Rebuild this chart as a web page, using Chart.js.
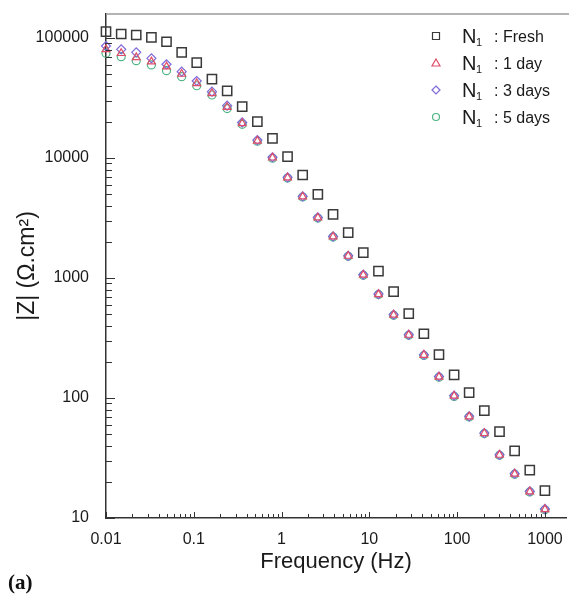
<!DOCTYPE html>
<html>
<head>
<meta charset="utf-8">
<script src="https://cdn.jsdelivr.net/npm/chart.js@4.4.1/dist/chart.umd.min.js"></script>
<style>
  body { margin: 0; background: #fff; }
  #wrap { width: 569px; height: 597px; }
</style>
</head>
<body>
<div id="wrap"><canvas id="bodeChart" width="569" height="597"></canvas></div>
<script>
// frequencies (Hz)
const freq = [0.01, 0.0149, 0.0221, 0.0329, 0.0489, 0.0728, 0.108, 0.161, 0.240, 0.356,
              0.530, 0.788, 1.17, 1.74, 2.59, 3.86, 5.74, 8.53, 12.7, 18.9,
              28.1, 41.8, 62.1, 92.4, 137, 204, 304, 452, 672, 1000];

// |Z| (ohm.cm2) per sample
const fresh = [112900, 108000, 105900, 101300, 93100, 76000, 62300, 45500, 36200, 26800,
               20100, 14600, 10250, 7220, 4980, 3390, 2385, 1625, 1143, 769,
               504, 343, 230, 156, 111, 78.4, 52.4, 36.2, 25.1, 16.9];
const oneDay = [80500, 74600, 69000, 63500, 57700, 50100, 41900, 34600, 26500, 19400,
                13900, 10050, 6850, 4760, 3180, 2210, 1525, 1060, 731, 492,
                335, 228, 150, 104, 70, 50.8, 33.5, 23.3, 16.6, 11.8];
const threeDays = [85800, 80500, 76000, 67700, 60400, 52400, 43800, 35700, 27300, 19800,
                   14100, 10150, 6900, 4790, 3200, 2220, 1530, 1065, 735, 495,
                   337, 229, 151, 104.5, 70.3, 51, 33.6, 23.4, 16.7, 11.9];
const fiveDays = [74600, 69900, 64700, 59600, 53400, 47600, 40000, 33500, 25800, 19100,
                  13800, 9950, 6800, 4730, 3160, 2195, 1515, 1052, 727, 489,
                  333, 226, 149, 103, 69.5, 50.5, 33.3, 23.2, 16.5, 11.7];

const seriesNames = ["Fresh", "1 day", "3 days", "5 days"];

const xTickValues = [0.01, 0.1, 1, 10, 100, 1000];
const xTickLabels = ["0.01", "0.1", "1", "10", "100", "1000"];
const yTickValues = [10, 100, 1000, 10000, 100000];
const yTickLabels = ["10", "100", "1000", "10000", "100000"];

const FONT = "'Liberation Sans', Arial, sans-serif";

function toPoints(values) {
    return values.map((v, i) => ({ x: freq[i], y: v }));
}

// inward minor/major ticks + top frame line
const frameTicks = {
    id: "frameTicks",
    afterDraw(chart) {
        const ctx = chart.ctx;
        const xs = chart.scales.x;
        const ys = chart.scales.y;
        const area = chart.chartArea;
        ctx.save();
        ctx.strokeStyle = "#333";
        ctx.lineWidth = 1;
        for (let d = 10; d <= 100000; d *= 10) {
            for (let m = 1; m <= 9; m++) {
                const v = d * m;
                if (v < ys.min || v > ys.max) continue;
                const py = Math.round(ys.getPixelForValue(v)) + 0.5;
                ctx.beginPath();
                ctx.moveTo(area.left, py);
                ctx.lineTo(area.left + (m === 1 ? 9 : 6), py);
                ctx.stroke();
            }
        }
        for (let d = 0.01; d <= 1000; d *= 10) {
            for (let m = 1; m <= 9; m++) {
                const v = d * m;
                if (v < xs.min || v > xs.max) continue;
                const px = Math.round(xs.getPixelForValue(v)) + 0.5;
                ctx.beginPath();
                ctx.moveTo(px, area.bottom);
                ctx.lineTo(px, area.bottom - (m === 1 ? 6 : 4));
                ctx.stroke();
            }
        }
        // top border
        ctx.strokeStyle = "#9a9a9a";
        ctx.lineWidth = 1.5;
        ctx.beginPath();
        ctx.moveTo(area.left, area.top);
        ctx.lineTo(chart.width, area.top);
        ctx.stroke();

        // panel tag
        ctx.fillStyle = "#111";
        ctx.font = "bold 21px 'Liberation Serif', 'Times New Roman', serif";
        ctx.textBaseline = "alphabetic";
        ctx.fillText("(a)", 8, 589);
        ctx.restore();
    }
};

// legend inside the plot, N with subscript 1
const subLegend = {
    id: "subLegend",
    afterDraw(chart) {
        const ctx = chart.ctx;
        ctx.save();
        chart.data.datasets.forEach((ds, i) => {
            const cy = 36 + i * 27;
            const cx = 436;
            ctx.strokeStyle = ds.borderColor;
            ctx.lineWidth = 1.2;
            ctx.beginPath();
            if (ds.pointStyle === "rect") {
                ctx.rect(cx - 3.5, cy - 3.5, 7, 7);
            } else if (ds.pointStyle === "triangle") {
                ctx.moveTo(cx, cy - 4);
                ctx.lineTo(cx + 4, cy + 3);
                ctx.lineTo(cx - 4, cy + 3);
                ctx.closePath();
            } else if (ds.pointStyle === "rectRot") {
                ctx.moveTo(cx, cy - 4);
                ctx.lineTo(cx + 4, cy);
                ctx.lineTo(cx, cy + 4);
                ctx.lineTo(cx - 4, cy);
                ctx.closePath();
            } else {
                ctx.arc(cx, cy, 3.5, 0, Math.PI * 2);
            }
            ctx.stroke();

            ctx.fillStyle = "#1a1a1a";
            ctx.textBaseline = "alphabetic";
            ctx.font = "20px " + FONT;
            ctx.fillText("N", 462, cy + 7);
            ctx.font = "11px " + FONT;
            ctx.fillText("1", 476, cy + 10);
            ctx.font = "16px " + FONT;
            ctx.fillText(": " + seriesNames[i], 494, cy + 6);
        });
        ctx.restore();
    }
};

function makeSet(values, style, radius, color, width) {
    return {
        label: "",
        data: toPoints(values),
        pointStyle: style,
        pointRadius: radius,
        pointHoverRadius: radius,
        pointBorderWidth: width,
        borderColor: color,
        pointBorderColor: color,
        backgroundColor: "rgba(0,0,0,0)",
        pointBackgroundColor: "rgba(0,0,0,0)",
        showLine: false,
        clip: false
    };
}

const datasets = [
    makeSet(fresh, "rect", 6.5, "#3a3a3a", 1.5),
    makeSet(oneDay, "triangle", 4.5, "#df4d68", 1.2),
    makeSet(threeDays, "rectRot", 4.5, "#7d68d8", 1.2),
    makeSet(fiveDays, "circle", 4, "#4fb585", 1.2)
];
datasets.forEach((d, i) => { d.label = "N1 : " + seriesNames[i]; });

new Chart(document.getElementById("bodeChart"), {
    type: "scatter",
    data: { datasets: datasets },
    options: {
        responsive: false,
        animation: false,
        events: [],
        layout: { autoPadding: false, padding: { left: 0, right: 3, top: 14, bottom: 0 } },
        plugins: {
            legend: { display: false },
            tooltip: { enabled: false }
        },
        scales: {
            x: {
                type: "logarithmic",
                min: 0.01,
                max: 1738,
                afterBuildTicks: s => { s.ticks = xTickValues.map(v => ({ value: v })); },
                afterFit: s => { s.height = 79; s.paddingLeft = 0; s.paddingRight = 0; },
                grid: { display: false, drawTicks: false },
                border: { display: true, color: "#333", width: 1.5 },
                ticks: {
                    autoSkip: false,
                    maxRotation: 0,
                    padding: 12,
                    color: "#1a1a1a",
                    font: { family: FONT, size: 16 },
                    callback: (v, i) => xTickLabels[i]
                },
                title: {
                    display: true,
                    text: "Frequency (Hz)",
                    color: "#1a1a1a",
                    font: { family: FONT, size: 22 },
                    padding: { top: 0, bottom: 22 }
                }
            },
            y: {
                type: "logarithmic",
                min: 10,
                max: 158500,
                afterBuildTicks: s => { s.ticks = yTickValues.map(v => ({ value: v })); },
                afterFit: s => { s.width = 106; s.paddingTop = 0; s.paddingBottom = 0; },
                grid: { display: false, drawTicks: false },
                border: { display: true, color: "#333", width: 1.5 },
                ticks: {
                    autoSkip: false,
                    padding: 17,
                    color: "#1a1a1a",
                    font: { family: FONT, size: 16 },
                    callback: (v, i) => yTickLabels[i]
                },
                title: {
                    display: true,
                    text: "|Z| (\u03A9.cm\u00B2)",
                    color: "#1a1a1a",
                    font: { family: FONT, size: 23 },
                    padding: { top: 14, bottom: 0 }
                }
            }
        }
    },
    plugins: [frameTicks, subLegend]
});
</script>
</body>
</html>
